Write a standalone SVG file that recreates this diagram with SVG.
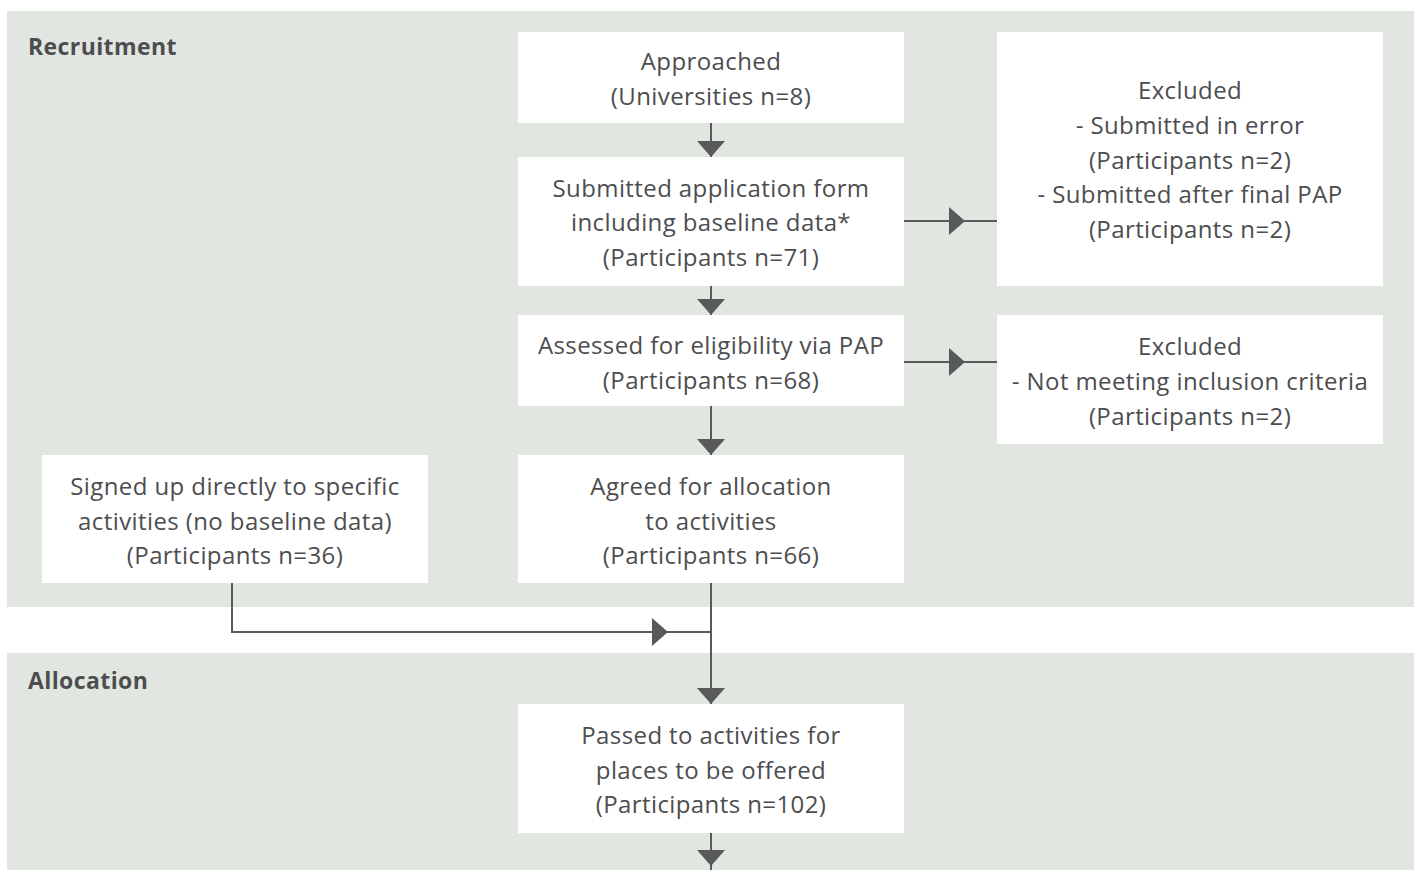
<svg xmlns="http://www.w3.org/2000/svg" width="1418" height="870" viewBox="0 0 1418 870">
<style>
  .panel { fill: #e1e6e0; }
  .box { fill: #ffffff; }
  .t { font-family: "Open Sans", "Liberation Sans", sans-serif; font-size: 24px; letter-spacing: 0.4px; fill: #4d4d4f; text-anchor: middle; }
  .h { font-family: "Open Sans", "Liberation Sans", sans-serif; font-size: 23px; letter-spacing: 0.4px; font-weight: 700; fill: #4d4d4f; }
  .c { fill: none; stroke: #58595b; stroke-width: 2; }
</style>
<defs>
  <marker id="arr" viewBox="0 0 16 28" refX="16" refY="14" markerWidth="16" markerHeight="28" markerUnits="userSpaceOnUse" orient="auto">
    <path d="M0,0 L16,14 L0,28 Z" fill="#58595b"/>
  </marker>
</defs>
<rect width="1418" height="870" fill="#ffffff"/>
<g id="panel-recruitment">
  <rect class="panel" x="7" y="11" width="1407" height="596"/>
  <text class="h" x="28" y="55">Recruitment</text>
</g>
<g id="panel-allocation">
  <rect class="panel" x="7" y="653" width="1407" height="217"/>
  <text class="h" x="28" y="689">Allocation</text>
</g>
<g id="connectors">
  <path class="c" d="M711,123 V157" marker-end="url(#arr)"/>
  <path class="c" d="M711,286 V315" marker-end="url(#arr)"/>
  <path class="c" d="M711,406 V455" marker-end="url(#arr)"/>
  <path class="c" d="M904,221 H965" marker-end="url(#arr)"/>
  <path class="c" d="M965,221 H997"/>
  <path class="c" d="M904,362 H965" marker-end="url(#arr)"/>
  <path class="c" d="M965,362 H997"/>
  <path class="c" d="M711,583 V704" marker-end="url(#arr)"/>
  <path class="c" d="M232,583 V632 H668" marker-end="url(#arr)"/>
  <path class="c" d="M668,632 H711"/>
  <path class="c" d="M711,833 V866" marker-end="url(#arr)"/>
  <path class="c" d="M711,864 V870"/>
</g>
<g id="approached">
  <rect class="box" x="518" y="32" width="386" height="91"/>
  <text class="t" x="711" y="70">Approached</text>
  <text class="t" x="711" y="105">(Universities n=8)</text>
</g>
<g id="submitted">
  <rect class="box" x="518" y="157" width="386" height="129"/>
  <text class="t" x="711" y="197">Submitted application form</text>
  <text class="t" x="711" y="231">including baseline data*</text>
  <text class="t" x="711" y="266">(Participants n=71)</text>
</g>
<g id="assessed">
  <rect class="box" x="518" y="315" width="386" height="91"/>
  <text class="t" x="711" y="354">Assessed for eligibility via PAP</text>
  <text class="t" x="711" y="389">(Participants n=68)</text>
</g>
<g id="agreed">
  <rect class="box" x="518" y="455" width="386" height="128"/>
  <text class="t" x="711" y="495">Agreed for allocation</text>
  <text class="t" x="711" y="530">to activities</text>
  <text class="t" x="711" y="564">(Participants n=66)</text>
</g>
<g id="signed-up">
  <rect class="box" x="42" y="455" width="386" height="128"/>
  <text class="t" x="235" y="495">Signed up directly to specific</text>
  <text class="t" x="235" y="530">activities (no baseline data)</text>
  <text class="t" x="235" y="564">(Participants n=36)</text>
</g>
<g id="excluded-1">
  <rect class="box" x="997" y="32" width="386" height="254"/>
  <text class="t" x="1190" y="99">Excluded</text>
  <text class="t" x="1190" y="134">- Submitted in error</text>
  <text class="t" x="1190" y="169">(Participants n=2)</text>
  <text class="t" x="1190" y="203">- Submitted after final PAP</text>
  <text class="t" x="1190" y="238">(Participants n=2)</text>
</g>
<g id="excluded-2">
  <rect class="box" x="997" y="315" width="386" height="129"/>
  <text class="t" x="1190" y="355">Excluded</text>
  <text class="t" x="1190" y="390">- Not meeting inclusion criteria</text>
  <text class="t" x="1190" y="425">(Participants n=2)</text>
</g>
<g id="passed">
  <rect class="box" x="518" y="704" width="386" height="129"/>
  <text class="t" x="711" y="744">Passed to activities for</text>
  <text class="t" x="711" y="779">places to be offered</text>
  <text class="t" x="711" y="813">(Participants n=102)</text>
</g>
</svg>
